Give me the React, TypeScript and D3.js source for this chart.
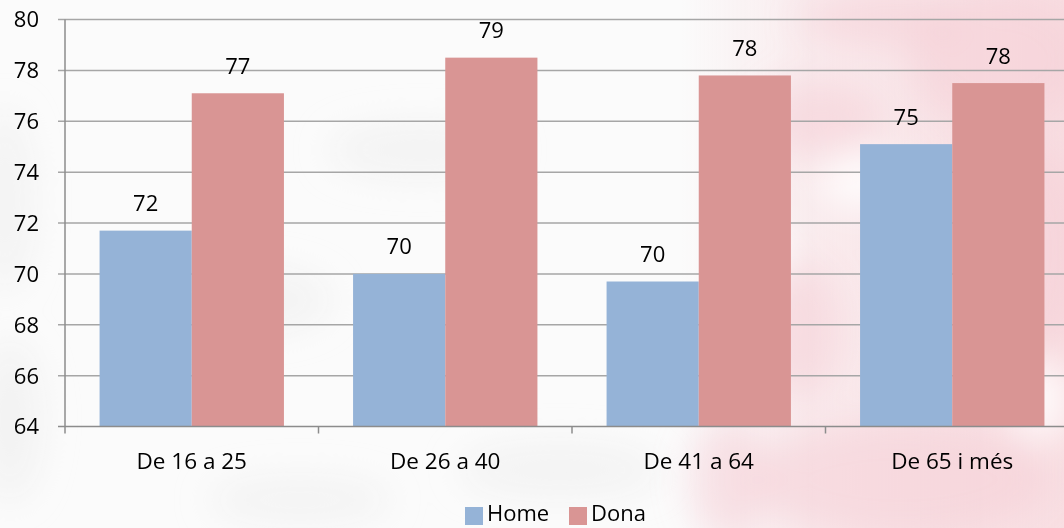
import React from "react";
import * as d3 from "d3";

const categories = ["De 16 a 25", "De 26 a 40", "De 41 a 64", "De 65 i més"];
const seriesNames = ["Home", "Dona"];
const homeValues = [71.7, 70.0, 69.7, 75.1];
const donaValues = [77.1, 78.5, 77.8, 77.5];
const yTicks = [64, 66, 68, 70, 72, 74, 76, 78, 80];
const colors = ["#95b3d7", "#d99594"];

const W = 1064;
const H = 528;
const FONT = "'Open Sans', 'Liberation Sans', sans-serif";

export default function App() {
  const left = 65;
  const step = 253.5;
  const x = d3.scaleBand<string>().domain(categories).range([left, left + step * categories.length]).padding(0);
  const xs = d3.scaleBand<string>().domain(seriesNames).range([0, x.bandwidth()]).paddingInner(0).paddingOuter(0.375);
  const y = d3.scaleLinear().domain([64, 80]).range([426.5, 19.5]);
  const right = left + step * categories.length;
  const values = [homeValues, donaValues];

  const blobsGray = [
    { cx: 5, cy: 200, rx: 25, ry: 90 },
    { cx: 10, cy: 420, rx: 30, ry: 80 },
    { cx: 250, cy: 300, rx: 80, ry: 30 },
    { cx: 420, cy: 150, rx: 90, ry: 25 },
    { cx: 560, cy: 470, rx: 100, ry: 25 },
    { cx: 300, cy: 500, rx: 90, ry: 20 },
  ];
  const blobsPink = [
    { cx: 1000, cy: 60, rx: 90, ry: 70 },
    { cx: 1010, cy: 250, rx: 80, ry: 120 },
    { cx: 900, cy: 480, rx: 150, ry: 60 },
    { cx: 820, cy: 120, rx: 60, ry: 40 },
    { cx: 800, cy: 330, rx: 40, ry: 70 },
    { cx: 730, cy: 480, rx: 40, ry: 60 },
    { cx: 880, cy: 20, rx: 80, ry: 25 },
  ];
  const blobsWhite = [
    { cx: 860, cy: 180, rx: 40, ry: 30 },
    { cx: 940, cy: 330, rx: 30, ry: 50 },
    { cx: 1040, cy: 400, rx: 30, ry: 40 },
    { cx: 760, cy: 250, rx: 30, ry: 30 },
  ];

  return (
    <svg width={W} height={H} style={{ position: "absolute", left: 0, top: 0, display: "block" }} fontFamily={FONT}>
      <defs>
        <filter id="blur" x="-50%" y="-50%" width="200%" height="200%">
          <feGaussianBlur stdDeviation="18" />
        </filter>
        <linearGradient id="pinkGrad" x1="0" x2="1" y1="0" y2="0">
          <stop offset="0" stopColor="#f7d3d8" stopOpacity="0" />
          <stop offset="0.35" stopColor="#f7d3d8" stopOpacity="0.4" />
          <stop offset="1" stopColor="#f7d3d8" stopOpacity="0.7" />
        </linearGradient>
      </defs>
      <rect x={0} y={0} width={W} height={H} fill="#fbfbfb" />
      <g filter="url(#blur)">
        {blobsGray.map((b, i) => (
          <ellipse key={"g" + i} cx={b.cx} cy={b.cy} rx={b.rx} ry={b.ry} fill="#ececec" opacity={0.6} />
        ))}
      </g>
      <rect x={680} y={0} width={W - 680} height={H} fill="url(#pinkGrad)" />
      <g filter="url(#blur)">
        {blobsPink.map((b, i) => (
          <ellipse key={"p" + i} cx={b.cx} cy={b.cy} rx={b.rx} ry={b.ry} fill="#f5ccd3" opacity={0.5} />
        ))}
        {blobsWhite.map((b, i) => (
          <ellipse key={"w" + i} cx={b.cx} cy={b.cy} rx={b.rx} ry={b.ry} fill="#ffffff" opacity={0.8} />
        ))}
      </g>

      {/* gridlines */}
      {yTicks.filter((t) => t !== 64).map((t) => (
        <line key={t} x1={left - 7} x2={right} y1={y(t)} y2={y(t)} stroke="#a6a6a6" strokeWidth={1.5} />
      ))}

      {/* bars */}
      {categories.map((c, ci) => (
        <g key={c}>
          {seriesNames.map((s, si) => {
            const v = values[si][ci];
            const bx = (x(c) as number) + (xs(s) as number);
            return (
              <rect key={s} x={bx} y={y(v)} width={xs.bandwidth()} height={y(64) - y(v)} fill={colors[si]} />
            );
          })}
        </g>
      ))}

      {/* data labels */}
      {categories.map((c, ci) =>
        seriesNames.map((s, si) => {
          const v = values[si][ci];
          const cx = (x(c) as number) + (xs(s) as number) + xs.bandwidth() / 2;
          return (
            <text key={c + s} x={cx} y={y(v) - 19.5} textAnchor="middle" fontSize={22} fill="#000">
              {Math.round(v)}
            </text>
          );
        })
      )}

      {/* axes */}
      <line x1={left} x2={left} y1={y(80)} y2={y(64) + 7} stroke="#8c8c8c" strokeWidth={1.5} />
      <line x1={left - 7} x2={right} y1={y(64)} y2={y(64)} stroke="#8c8c8c" strokeWidth={1.5} />
      {categories.map((c) => (
        <line key={c} x1={(x(c) as number) + step} x2={(x(c) as number) + step} y1={y(64)} y2={y(64) + 7} stroke="#8c8c8c" strokeWidth={1.5} />
      ))}
      {yTicks.map((t) => (
        <text key={t} x={39} y={y(t)} dy="0.36em" textAnchor="end" fontSize={22} fill="#000">
          {t}
        </text>
      ))}
      {categories.map((c) => (
        <text key={c} x={(x(c) as number) + x.bandwidth() / 2} y={469} textAnchor="middle" fontSize={22.5} fill="#000">
          {c}
        </text>
      ))}

      {/* legend */}
      {seriesNames.map((s, i) => {
        const lx = i === 0 ? 465 : 569;
        return (
          <g key={s}>
            <rect x={lx} y={507} width={18} height={18} fill={colors[i]} />
            <text x={lx + 22} y={521} fontSize={22} fill="#000">
              {s}
            </text>
          </g>
        );
      })}
    </svg>
  );
}
